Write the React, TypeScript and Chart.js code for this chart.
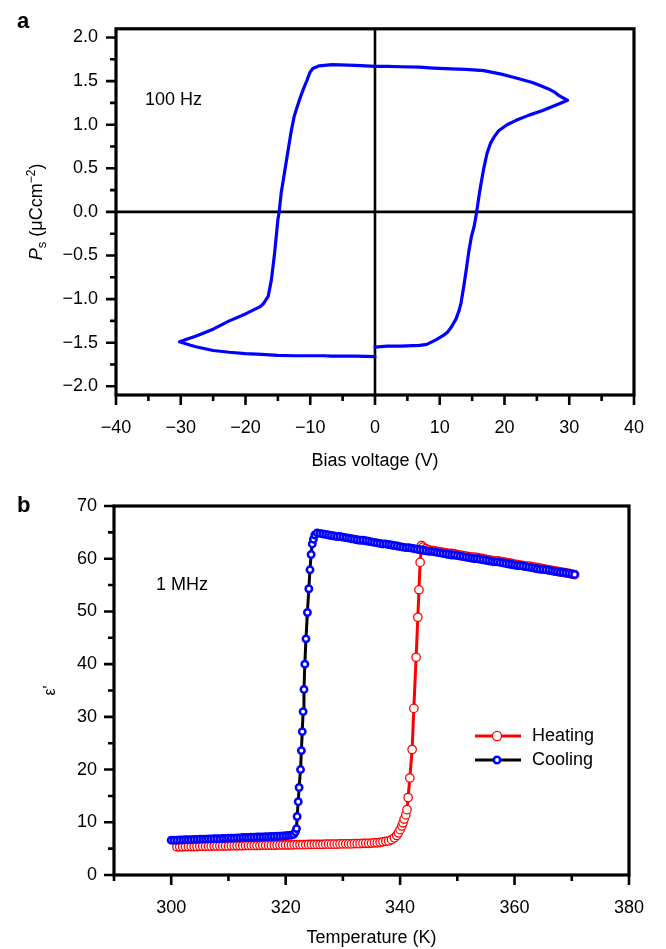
import React, { useEffect, useRef } from 'react';
import { Chart, registerables } from 'chart.js';

Chart.register(...registerables);

const FONT = '"Liberation Sans", Arial, Helvetica, sans-serif';
const BLUE = '#0000ff';
const RED = '#ff0000';

// ---------------- Panel a: P–V hysteresis loop (V, µC cm^-2), measurement order ----------------
const loopRising: [number, number][] = [
  [0, -1.55], [1.9, -1.54], [4, -1.54], [6.9, -1.53], [8, -1.52], [9.35, -1.47], [10.5, -1.42],
  [11.2, -1.38], [11.8, -1.32], [12.5, -1.23], [13.0, -1.13], [13.3, -1.04], [13.7, -0.86],
  [14.1, -0.66], [14.5, -0.45], [14.9, -0.28], [15.3, -0.17], [15.5, -0.09], [15.7, 0.0],
  [16.0, 0.15], [16.3, 0.29], [16.8, 0.5], [17.3, 0.67], [17.8, 0.78], [18.4, 0.86], [19.1, 0.93],
  [20.4, 1.0], [21.8, 1.05], [23.8, 1.11], [25.8, 1.16], [27.8, 1.22], [29.75, 1.28],
];
const loopUpper: [number, number][] = [
  [28.5, 1.33], [27.8, 1.37], [26.8, 1.41], [25.5, 1.45], [24.3, 1.485], [21.8, 1.535],
  [19.5, 1.58], [16.8, 1.62], [14, 1.635], [11.8, 1.64], [9, 1.65], [6.9, 1.66], [4, 1.665],
  [2, 1.67], [0, 1.67], [-3, 1.68], [-6.6, 1.69], [-8.6, 1.675], [-9.6, 1.645], [-10.05, 1.6],
  [-10.5, 1.51], [-11.0, 1.42], [-11.5, 1.32], [-12.0, 1.21], [-12.5, 1.09], [-13.0, 0.9],
  [-13.5, 0.67], [-14.0, 0.44], [-14.5, 0.21], [-14.8, 0.0], [-15.0, -0.09], [-15.5, -0.47],
  [-16.0, -0.78], [-16.5, -0.97], [-17.2, -1.05], [-17.8, -1.09], [-20, -1.17], [-22.5, -1.25],
  [-25, -1.345], [-27.5, -1.42], [-30.2, -1.49],
];
const loopLower: [number, number][] = [
  [-28.5, -1.53], [-27.5, -1.55], [-25, -1.59], [-22.5, -1.61], [-20, -1.625], [-17.5, -1.635],
  [-15, -1.645], [-12.5, -1.65], [-10, -1.65], [-8, -1.65], [-6.6, -1.655], [-3, -1.655], [0, -1.66],
];

// ---------------- Panel b: ε' vs temperature (K) at 1 MHz ----------------
const heatingLow: [number, number][] = [
  [301, 5.35], [301.5, 5.35], [302, 5.35], [302.5, 5.4], [303, 5.4], [303.5, 5.4], [304, 5.4],
  [304.5, 5.4], [305, 5.45], [305.5, 5.45], [306, 5.45], [306.5, 5.45], [307, 5.45], [307.5, 5.5],
  [308, 5.5], [308.5, 5.5], [309, 5.5], [309.5, 5.5], [310, 5.5], [310.5, 5.55], [311, 5.55],
  [311.5, 5.55], [312, 5.55], [312.5, 5.55], [313, 5.6], [313.5, 5.6], [314, 5.6], [314.5, 5.6],
  [315, 5.6], [315.5, 5.6], [316, 5.65], [316.5, 5.65], [317, 5.65], [317.5, 5.65], [318, 5.65],
  [318.5, 5.7], [319, 5.7], [319.5, 5.7], [320, 5.7], [320.5, 5.7], [321, 5.7], [321.5, 5.75],
  [322, 5.75], [322.5, 5.75], [323, 5.75], [323.5, 5.75], [324, 5.8], [324.5, 5.8], [325, 5.8],
  [325.5, 5.8], [326, 5.8], [326.5, 5.8], [327, 5.85], [327.5, 5.85], [328, 5.85], [328.5, 5.85],
  [329, 5.85], [329.5, 5.9], [330, 5.9], [330.5, 5.9], [331, 5.9], [331.5, 5.9], [332, 5.95],
  [332.5, 5.95], [333, 5.95], [333.5, 6.0], [334, 6.0], [334.5, 6.0], [335, 6.05], [335.5, 6.1],
  [336, 6.1], [336.5, 6.2], [337, 6.3], [337.5, 6.4],
];
const heatingJump: [number, number][] = [
  [338.0, 6.45], [338.5, 6.7], [339.0, 7.05], [339.4, 7.5], [339.7, 8.0], [340.0, 8.6], [340.3, 9.3],
  [340.5, 9.9], [340.7, 10.6], [341.0, 11.4], [341.2, 12.4], [341.4, 14.7], [341.7, 18.4],
  [342.1, 23.8], [342.4, 31.6], [342.8, 41.3], [343.1, 48.9], [343.3, 54.1], [343.5, 59.3],
  [343.75, 62.5],
];
const heatingHigh: [number, number][] = [
  [344, 62.2], [344.5, 61.9], [345, 61.7], [345.5, 61.6], [346, 61.5], [346.5, 61.4], [347, 61.3],
  [347.5, 61.2], [348, 61.1], [348.5, 61.0], [349, 61.0], [349.5, 60.9], [350, 60.8], [350.5, 60.7],
  [351, 60.6], [351.5, 60.5], [352, 60.4], [352.5, 60.3], [353, 60.3], [353.5, 60.2], [354, 60.1],
  [354.5, 60.0], [355, 59.9], [355.5, 59.8], [356, 59.7], [356.5, 59.6], [357, 59.6], [357.5, 59.5],
  [358, 59.4], [358.5, 59.3], [359, 59.2], [359.5, 59.1], [360, 59.0], [360.5, 58.9], [361, 58.8],
  [361.5, 58.7], [362, 58.6], [362.5, 58.6], [363, 58.5], [363.5, 58.4], [364, 58.3], [364.5, 58.2],
  [365, 58.1], [365.5, 58.0], [366, 57.9], [366.5, 57.8], [367, 57.7], [367.5, 57.6], [368, 57.5],
  [368.5, 57.4], [369, 57.3], [369.5, 57.2], [370, 57.1], [370.5, 57.0],
];
const coolingLow: [number, number][] = [
  [300, 6.6], [300.5, 6.6], [301, 6.6], [301.5, 6.65], [302, 6.65], [302.5, 6.7], [303, 6.7],
  [303.5, 6.7], [304, 6.75], [304.5, 6.75], [305, 6.8], [305.5, 6.8], [306, 6.8], [306.5, 6.85],
  [307, 6.85], [307.5, 6.9], [308, 6.9], [308.5, 6.9], [309, 6.95], [309.5, 6.95], [310, 7.0],
  [310.5, 7.0], [311, 7.0], [311.5, 7.05], [312, 7.05], [312.5, 7.1], [313, 7.1], [313.5, 7.1],
  [314, 7.15], [314.5, 7.15], [315, 7.2], [315.5, 7.2], [316, 7.2], [316.5, 7.25], [317, 7.25],
  [317.5, 7.3], [318, 7.3], [318.5, 7.35], [319, 7.35], [319.5, 7.4], [320, 7.45], [320.5, 7.5],
  [321, 7.55], [321.4, 7.7],
];
const coolingJump: [number, number][] = [
  [321.7, 8.2], [321.9, 8.8], [322.0, 11.1], [322.2, 13.9], [322.35, 16.6], [322.6, 20.0],
  [322.75, 23.6], [322.9, 27.2], [323.05, 31.0], [323.2, 35.2], [323.35, 40.0], [323.55, 44.8],
  [323.8, 49.8], [324.05, 54.3], [324.25, 57.9], [324.45, 60.8], [324.65, 62.8], [324.85, 63.7],
  [325.1, 64.5],
];
const coolingHigh: [number, number][] = [
  [325.5, 64.9], [326, 64.8], [326.5, 64.7], [327, 64.6], [327.5, 64.5], [328, 64.4], [328.5, 64.3],
  [329, 64.2], [329.5, 64.2], [330, 64.1], [330.5, 64.0], [331, 63.9], [331.5, 63.8], [332, 63.7],
  [332.5, 63.6], [333, 63.5], [333.5, 63.5], [334, 63.4], [334.5, 63.3], [335, 63.2], [335.5, 63.1],
  [336, 63.0], [336.5, 62.9], [337, 62.8], [337.5, 62.8], [338, 62.7], [338.5, 62.6], [339, 62.5],
  [339.5, 62.4], [340, 62.3], [340.5, 62.2], [341, 62.1], [341.5, 62.1], [342, 62.0], [342.5, 61.9],
  [343, 61.8], [343.5, 61.7], [344, 61.6], [344.5, 61.5], [345, 61.4], [345.5, 61.4], [346, 61.3],
  [346.5, 61.2], [347, 61.1], [347.5, 61.0], [348, 60.9], [348.5, 60.8], [349, 60.7], [349.5, 60.7],
  [350, 60.6], [350.5, 60.5], [351, 60.4], [351.5, 60.3], [352, 60.2], [352.5, 60.1], [353, 60.0],
  [353.5, 60.0], [354, 59.9], [354.5, 59.8], [355, 59.7], [355.5, 59.6], [356, 59.5], [356.5, 59.4],
  [357, 59.4], [357.5, 59.3], [358, 59.2], [358.5, 59.1], [359, 59.0], [359.5, 58.9], [360, 58.8],
  [360.5, 58.7], [361, 58.7], [361.5, 58.6], [362, 58.5], [362.5, 58.4], [363, 58.3], [363.5, 58.2],
  [364, 58.1], [364.5, 58.0], [365, 58.0], [365.5, 57.9], [366, 57.8], [366.5, 57.7], [367, 57.6],
  [367.5, 57.5], [368, 57.4], [368.5, 57.4], [369, 57.3], [369.5, 57.2], [370, 57.1], [370.5, 57.0],
];

const seriesLabels = ['Heating', 'Cooling'];

const toXY = (arr: [number, number][]) => arr.map(([x, y]) => ({ x, y }));
const minus = (s: string) => s.replace('-', '\u2212');

function minorValues(scale: any): number[] {
  const vals: number[] = scale.ticks.map((t: any) => t.value);
  if (vals.length < 2) return [];
  const step = vals[1] - vals[0];
  const out: number[] = [];
  const first = vals[0] - step / 2;
  if (first >= scale.min - 1e-9) out.push(first);
  for (let i = 0; i < vals.length - 1; i++) out.push((vals[i] + vals[i + 1]) / 2);
  const last = vals[vals.length - 1] + step / 2;
  if (last <= scale.max + 1e-9) out.push(last);
  return out;
}

const MAJOR = 10;
const MINOR = 6;

const frameTicksPlugin = {
  id: 'frameTicks',
  afterDraw(chart: any) {
    const { ctx, chartArea: a, scales } = chart;
    const xs = scales.x;
    const ys = scales.y;
    ctx.save();
    ctx.strokeStyle = '#000';
    ctx.lineWidth = 2.6;
    ctx.lineCap = 'butt';
    ctx.beginPath();
    xs.ticks.forEach((t: any) => {
      const p = xs.getPixelForValue(t.value);
      ctx.moveTo(p, a.bottom);
      ctx.lineTo(p, a.bottom + MAJOR);
    });
    minorValues(xs).forEach((v) => {
      const p = xs.getPixelForValue(v);
      ctx.moveTo(p, a.bottom);
      ctx.lineTo(p, a.bottom + MINOR);
    });
    ys.ticks.forEach((t: any) => {
      const p = ys.getPixelForValue(t.value);
      ctx.moveTo(a.left, p);
      ctx.lineTo(a.left - MAJOR, p);
    });
    minorValues(ys).forEach((v) => {
      const p = ys.getPixelForValue(v);
      ctx.moveTo(a.left, p);
      ctx.lineTo(a.left - MINOR, p);
    });
    ctx.stroke();
    ctx.lineWidth = 3.2;
    ctx.strokeRect(a.left, a.top, a.right - a.left, a.bottom - a.top);
    ctx.restore();
  },
};

const zeroLinesPlugin = {
  id: 'zeroLines',
  beforeDatasetsDraw(chart: any) {
    const { ctx, chartArea: a, scales } = chart;
    const px = scales.x.getPixelForValue(0);
    const py = scales.y.getPixelForValue(0);
    ctx.save();
    ctx.strokeStyle = '#000';
    ctx.lineWidth = 2.6;
    ctx.beginPath();
    ctx.moveTo(px, a.top);
    ctx.lineTo(px, a.bottom);
    ctx.moveTo(a.left, py);
    ctx.lineTo(a.right, py);
    ctx.stroke();
    ctx.restore();
  },
};

const textAPlugin = {
  id: 'textA',
  afterDraw(chart: any) {
    const { ctx, chartArea: a } = chart;
    ctx.save();
    ctx.fillStyle = '#000';
    ctx.textBaseline = 'alphabetic';
    ctx.font = `bold 22px ${FONT}`;
    ctx.textAlign = 'left';
    ctx.fillText('a', 17, 28);
    ctx.font = `18px ${FONT}`;
    ctx.fillText('100 Hz', 145, 105);
    ctx.textAlign = 'center';
    ctx.fillText('Bias voltage (V)', (a.left + a.right) / 2, 466);
    // y title: P_s (µCcm^-2), rotated
    const parts = [
      { t: 'P', f: `italic 18px ${FONT}`, dy: 0 },
      { t: 's', f: `13px ${FONT}`, dy: 4 },
      { t: ' (\u03bcCcm', f: `18px ${FONT}`, dy: 0 },
      { t: '\u22122', f: `12px ${FONT}`, dy: -7 },
      { t: ')', f: `18px ${FONT}`, dy: 0 },
    ];
    let total = 0;
    parts.forEach((p) => {
      ctx.font = p.f;
      total += ctx.measureText(p.t).width;
    });
    ctx.translate(42, (a.top + a.bottom) / 2);
    ctx.rotate(-Math.PI / 2);
    ctx.textAlign = 'left';
    let x = -total / 2;
    parts.forEach((p) => {
      ctx.font = p.f;
      ctx.fillText(p.t, x, p.dy);
      x += ctx.measureText(p.t).width;
    });
    ctx.restore();
  },
};

const COOL_R = 3.2;
const COOL_W = 2.5;
const HEAT_R = 4.2;
const HEAT_W = 1.3;

const textBPlugin = {
  id: 'textB',
  afterDraw(chart: any) {
    const { ctx, chartArea: a } = chart;
    const off = 475;
    ctx.save();
    ctx.fillStyle = '#000';
    ctx.textBaseline = 'alphabetic';
    ctx.font = `bold 22px ${FONT}`;
    ctx.textAlign = 'left';
    ctx.fillText('b', 17, 512 - off);
    ctx.font = `18px ${FONT}`;
    ctx.fillText('1 MHz', 156, 590 - off);
    ctx.textAlign = 'center';
    ctx.fillText('Temperature (K)', (a.left + a.right) / 2, 943 - off);
    // legend
    const rows = [
      { label: seriesLabels[0], line: RED, ring: RED, r: 4.6, w: HEAT_W, y: 736 - off },
      { label: seriesLabels[1], line: '#000', ring: BLUE, r: COOL_R, w: COOL_W, y: 760 - off },
    ];
    rows.forEach((row) => {
      ctx.strokeStyle = row.line;
      ctx.lineWidth = 3;
      ctx.beginPath();
      ctx.moveTo(475, row.y);
      ctx.lineTo(521, row.y);
      ctx.stroke();
      ctx.beginPath();
      ctx.arc(497, row.y, row.r, 0, Math.PI * 2);
      ctx.fillStyle = '#fff';
      ctx.fill();
      ctx.strokeStyle = row.ring;
      ctx.lineWidth = row.w;
      ctx.stroke();
      ctx.fillStyle = '#000';
      ctx.textAlign = 'left';
      ctx.textBaseline = 'middle';
      ctx.font = `18px ${FONT}`;
      ctx.fillText(row.label, 532, row.y);
    });
    // y title ε'
    ctx.translate(55, (a.top + a.bottom) / 2);
    ctx.rotate(-Math.PI / 2);
    ctx.textAlign = 'center';
    ctx.textBaseline = 'alphabetic';
    ctx.font = `16px ${FONT}`;
    ctx.fillText("\u03b5'", 0, 0);
    ctx.restore();
  },
};

const tickFont = { family: FONT, size: 18 };

export default function App() {
  const refA = useRef<HTMLCanvasElement | null>(null);
  const refB = useRef<HTMLCanvasElement | null>(null);

  useEffect(() => {
    const chartA = new Chart(refA.current as HTMLCanvasElement, {
      type: 'scatter',
      data: {
        datasets: [
          {
            data: toXY([...loopRising, ...loopUpper, ...loopLower]),
            showLine: true,
            borderColor: BLUE,
            borderWidth: 3.2,
            borderJoinStyle: 'round',
            borderCapStyle: 'round',
            pointRadius: 0,
            tension: 0,
            fill: false,
          } as any,
        ],
      },
      options: {
        animation: false,
        responsive: false,
        devicePixelRatio: 1,
        events: [],
        layout: { padding: { top: 28, right: 14, left: 0, bottom: 0 } },
        plugins: { legend: { display: false }, tooltip: { enabled: false } },
        scales: {
          x: {
            type: 'linear',
            min: -40,
            max: 40,
            grid: { display: false, drawTicks: false },
            border: { display: false },
            ticks: {
              stepSize: 10,
              autoSkip: false,
              maxRotation: 0,
              includeBounds: false,
              padding: 22,
              color: '#000',
              font: tickFont,
              callback: (v: any) => minus(String(v)),
            },
            afterFit: (s: any) => {
              s.height = 80;
            },
          },
          y: {
            type: 'linear',
            min: -2.1,
            max: 2.1,
            grid: { display: false, drawTicks: false },
            border: { display: false },
            ticks: {
              stepSize: 0.5,
              autoSkip: false,
              includeBounds: false,
              padding: 18,
              color: '#000',
              font: tickFont,
              callback: (v: any) => minus(Number(v).toFixed(1)),
            },
            afterFit: (s: any) => {
              s.width = 116;
            },
          },
        },
      } as any,
      plugins: [zeroLinesPlugin, frameTicksPlugin, textAPlugin],
    });

    const chartB = new Chart(refB.current as HTMLCanvasElement, {
      type: 'scatter',
      data: {
        datasets: [
          {
            label: seriesLabels[1],
            data: toXY([...coolingLow, ...coolingJump, ...coolingHigh]),
            showLine: true,
            borderColor: '#000',
            borderWidth: 3,
            pointRadius: COOL_R,
            pointBorderWidth: COOL_W,
            pointBorderColor: BLUE,
            pointBackgroundColor: '#fff',
            tension: 0,
            order: 1,
          } as any,
          {
            label: seriesLabels[0],
            data: toXY([...heatingLow, ...heatingJump, ...heatingHigh]),
            showLine: true,
            borderColor: RED,
            borderWidth: 3,
            pointRadius: HEAT_R,
            pointBorderWidth: HEAT_W,
            pointBorderColor: RED,
            pointBackgroundColor: '#fff',
            tension: 0,
            order: 2,
          } as any,
        ],
      },
      options: {
        animation: false,
        responsive: false,
        devicePixelRatio: 1,
        events: [],
        layout: { padding: { top: 31, right: 16, left: 0, bottom: 0 } },
        plugins: { legend: { display: false }, tooltip: { enabled: false } },
        scales: {
          x: {
            type: 'linear',
            min: 290,
            max: 380,
            grid: { display: false, drawTicks: false },
            border: { display: false },
            ticks: {
              stepSize: 20,
              autoSkip: false,
              maxRotation: 0,
              includeBounds: false,
              padding: 22,
              color: '#000',
              font: tickFont,
              callback: (v: any) => String(v),
            },
            afterFit: (s: any) => {
              s.height = 74;
            },
          },
          y: {
            type: 'linear',
            min: 0,
            max: 70,
            grid: { display: false, drawTicks: false },
            border: { display: false },
            ticks: {
              stepSize: 10,
              autoSkip: false,
              includeBounds: false,
              padding: 17,
              color: '#000',
              font: tickFont,
              callback: (v: any) => String(v),
            },
            afterFit: (s: any) => {
              s.width = 114;
            },
          },
        },
      } as any,
      plugins: [frameTicksPlugin, textBPlugin],
    });

    return () => {
      chartA.destroy();
      chartB.destroy();
    };
  }, []);

  return (
    <div style={{ position: 'absolute', left: 0, top: 0, width: 666, height: 949, background: '#fff' }}>
      <canvas ref={refA} width={666} height={475} style={{ position: 'absolute', left: 0, top: 0, display: 'block' }} />
      <canvas ref={refB} width={666} height={474} style={{ position: 'absolute', left: 0, top: 475, display: 'block' }} />
    </div>
  );
}
